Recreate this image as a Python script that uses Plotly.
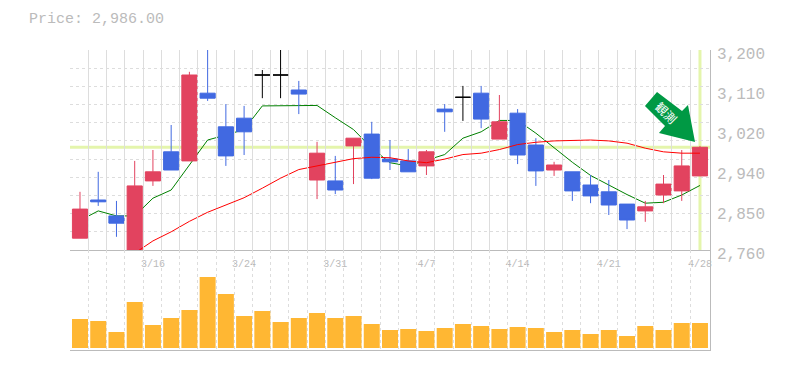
import plotly.graph_objects as go

# values
opens = [2786,2870,2835,2760,2912,2976,2956,3105,3031,3050,3145,3145,3112,2914,2912,2989,3015,2960,2956,2945,3070,3096,3105,3004,3061,2991,2936,2932,2903,2888,2861,2846,2881,2890,2923]
closes = [2850,2866,2819,2901,2932,2936,3145,3094,2967,3020,3145,3145,3103,2973,2892,3006,2918,2954,2932,2976,3064,3096,3048,3042,2969,2934,2947,2890,2879,2859,2826,2855,2905,2945,2986]
highs = [2888,2932,2868,2956,2980,3035,3152,3200,3081,3077,3156,3200,3132,2998,2967,3006,3042,3002,2982,2980,3081,3121,3121,3101,3070,3006,2954,2932,2925,2914,2861,2868,2925,2980,2989]
lows = [2786,2857,2789,2760,2901,2936,2956,3088,2945,2969,3094,3094,3059,2872,2883,2905,2916,2936,2932,2925,3020,3044,3028,3004,2949,2901,2923,2868,2863,2837,2806,2822,2863,2868,2923]
ma_short = [2825,2846,2835,2835,2874,2892,2947,3002,3013,3025,3077,3077,3078,3078,3051,3025,2984,2952,2945,2958,2970,3006,3020,3045,3045,3017,2984,2953,2924,2903,2882,2863,2865,2881,2902]
ma_long = [None,None,None,2753,2780,2800,2823,2843,2859,2875,2896,2918,2937,2945,2954,2961,2964,2963,2956,2952,2960,2970,2973,2981,2992,2997,3000,3001,3002,3000,2995,2984,2976,2973,2973]
volume = [29,27,16,46,23,30,38,71,54,32,37,26,30,35,30,32,24,18,19,17,20,24,22,19,21,20,16,18,14,18,12,22,18,25,25]
tick_index = [4,9,14,19,24,29,34]
tick_dates = ["3/16","3/24","3/31","4/7","4/14","4/21","4/28"]
price_ticks = [3200,3112,3024,2936,2848,2760]
price_labels = ["3,200","3,110","3,020","2,940","2,850","2,760"]
price_grid = [2760+40*k for k in range(12)]
title_text = "Price: 2,986.00"
badge_text = "観測"

RED="#E2435F"; BLUE="#4169E1"; ORANGE="#FFB733"; CROSS="#E4F5AC"; GREY="#BBBBBB"; GRID="#DDDDDD"
FONT="Liberation Mono"
OFF=8  # page body margin
idx=list(range(len(closes)))
xr=[-0.548,34.55]
is_doji=[o==c for o,c in zip(opens,closes)]
reg=[i for i in idx if not is_doji[i]]
doj=[i for i in idx if is_doji[i]]
fig=go.Figure()
fig.add_trace(go.Scatter(x=idx,y=ma_short,mode="lines",line=dict(color="#008000",width=1),hoverinfo="skip",showlegend=False))
def candle(ix,up,dn):
    return go.Candlestick(x=ix,open=[opens[i] for i in ix],close=[closes[i] for i in ix],high=[highs[i] for i in ix],low=[lows[i] for i in ix],
        increasing=dict(line=dict(color=up,width=1),fillcolor=up),decreasing=dict(line=dict(color=dn,width=1),fillcolor=dn),whiskerwidth=0,showlegend=False,yaxis="y4")
fig.add_trace(candle(reg,RED,BLUE))
fig.add_trace(candle(doj,"#000000","#000000"))
fig.add_trace(go.Scatter(x=idx,y=ma_long,mode="lines",line=dict(color="#FF0000",width=1),hoverinfo="skip",showlegend=False,cliponaxis=False,yaxis="y4"))
fig.add_trace(go.Bar(x=idx,y=volume,marker=dict(color=ORANGE,line=dict(width=0)),width=0.877,xaxis="x2",yaxis="y2",showlegend=False))
fig.add_trace(go.Scatter(x=[0],y=[2760],mode="markers",marker=dict(opacity=0),xaxis="x",yaxis="y3",hoverinfo="skip",showlegend=False))
fig.add_shape(type="line",xref="x",yref="y",x0=xr[0],x1=xr[1],y0=closes[-1],y1=closes[-1],line=dict(color=CROSS,width=3),layer="below")
fig.add_shape(type="line",xref="x",yref="y",x0=idx[-1],x1=idx[-1],y0=2760,y1=3200,line=dict(color=CROSS,width=3),layer="below")
grid_x=[i-0.54 for i in range(len(closes))]
W=785-OFF;H=366;L=70;R=710;T=50;B=350
def py(p): return (B-p)/(B-T)
def px(p): return (p-L)/(R-L)
minor=dict(tickmode="array",tickvals=grid_x,showgrid=True,gridcolor=GRID,griddash="3px,3px",gridwidth=1,ticklen=0)
fig.update_layout(width=W,height=H,margin=dict(l=L-OFF,r=W+OFF-R,t=T-OFF,b=H+OFF-B,pad=0),paper_bgcolor="white",plot_bgcolor="rgba(0,0,0,0)",boxgap=0.17,boxgroupgap=0,boxmode="overlay",showlegend=False,hovermode=False,
 title=dict(text=title_text,x=(29-OFF)/W,xref="container",xanchor="left",y=1-(18-OFF)/H,yref="container",yanchor="middle",font=dict(family=FONT,size=15,color=GREY)),
 xaxis=dict(range=xr,domain=[0,1],anchor="y",tickmode="array",tickvals=tick_index,ticktext=tick_dates,tickfont=dict(family=FONT,size=10,color=GREY),ticks="",showgrid=False,zeroline=False,showline=True,linecolor=GREY,linewidth=1,rangeslider=dict(visible=False),minor=minor,ticklabelstandoff=4),
 xaxis2=dict(range=xr,domain=[0,1],anchor="y2",tickmode="array",tickvals=[],showgrid=False,zeroline=False,showline=True,linecolor=GREY,linewidth=1,minor=minor,showticklabels=False),
 yaxis=dict(domain=[py(250),1],range=[2760,3200],side="right",anchor="x",tickmode="array",tickvals=price_grid,showticklabels=False,ticks="",showgrid=True,gridcolor=GRID,griddash="3px,3px",gridwidth=1,zeroline=False,showline=True,linecolor=GREY,linewidth=1),
 yaxis4=dict(overlaying="y",range=[2760,3200],side="right",anchor="x",showticklabels=False,ticks="",showgrid=False,zeroline=False,showline=False),
 yaxis2=dict(domain=[0,py(250)],range=[-2,98],side="right",anchor="x2",showticklabels=False,ticks="",showgrid=False,zeroline=False,showline=True,linecolor=GREY,linewidth=1),
 yaxis3=dict(domain=[py(253),py(53)],range=[2760,3200],side="right",anchor="x",tickmode="array",tickvals=price_ticks,ticktext=price_labels,tickfont=dict(family=FONT,size=16,color=GREY),ticks="",showgrid=False,zeroline=False,showline=False,ticklabelstandoff=6),
)
poly=[(657,92),(645,106),(665,126),(659,133),(695,142),(688,105),(682,111)]
path="M "+" L ".join("%.4f,%.4f"%(px(a),py(b)) for a,b in poly)+" Z"
fig.add_shape(type="path",path=path,xref="paper",yref="paper",fillcolor="#009944",line=dict(width=0),layer="above")
fig.add_annotation(text=badge_text,x=px(667),y=py(112),xref="paper",yref="paper",showarrow=False,textangle=45,font=dict(family="Noto Sans CJK JP",size=12,color="white"),xanchor="center",yanchor="middle")
fig.write_html("out.html")
